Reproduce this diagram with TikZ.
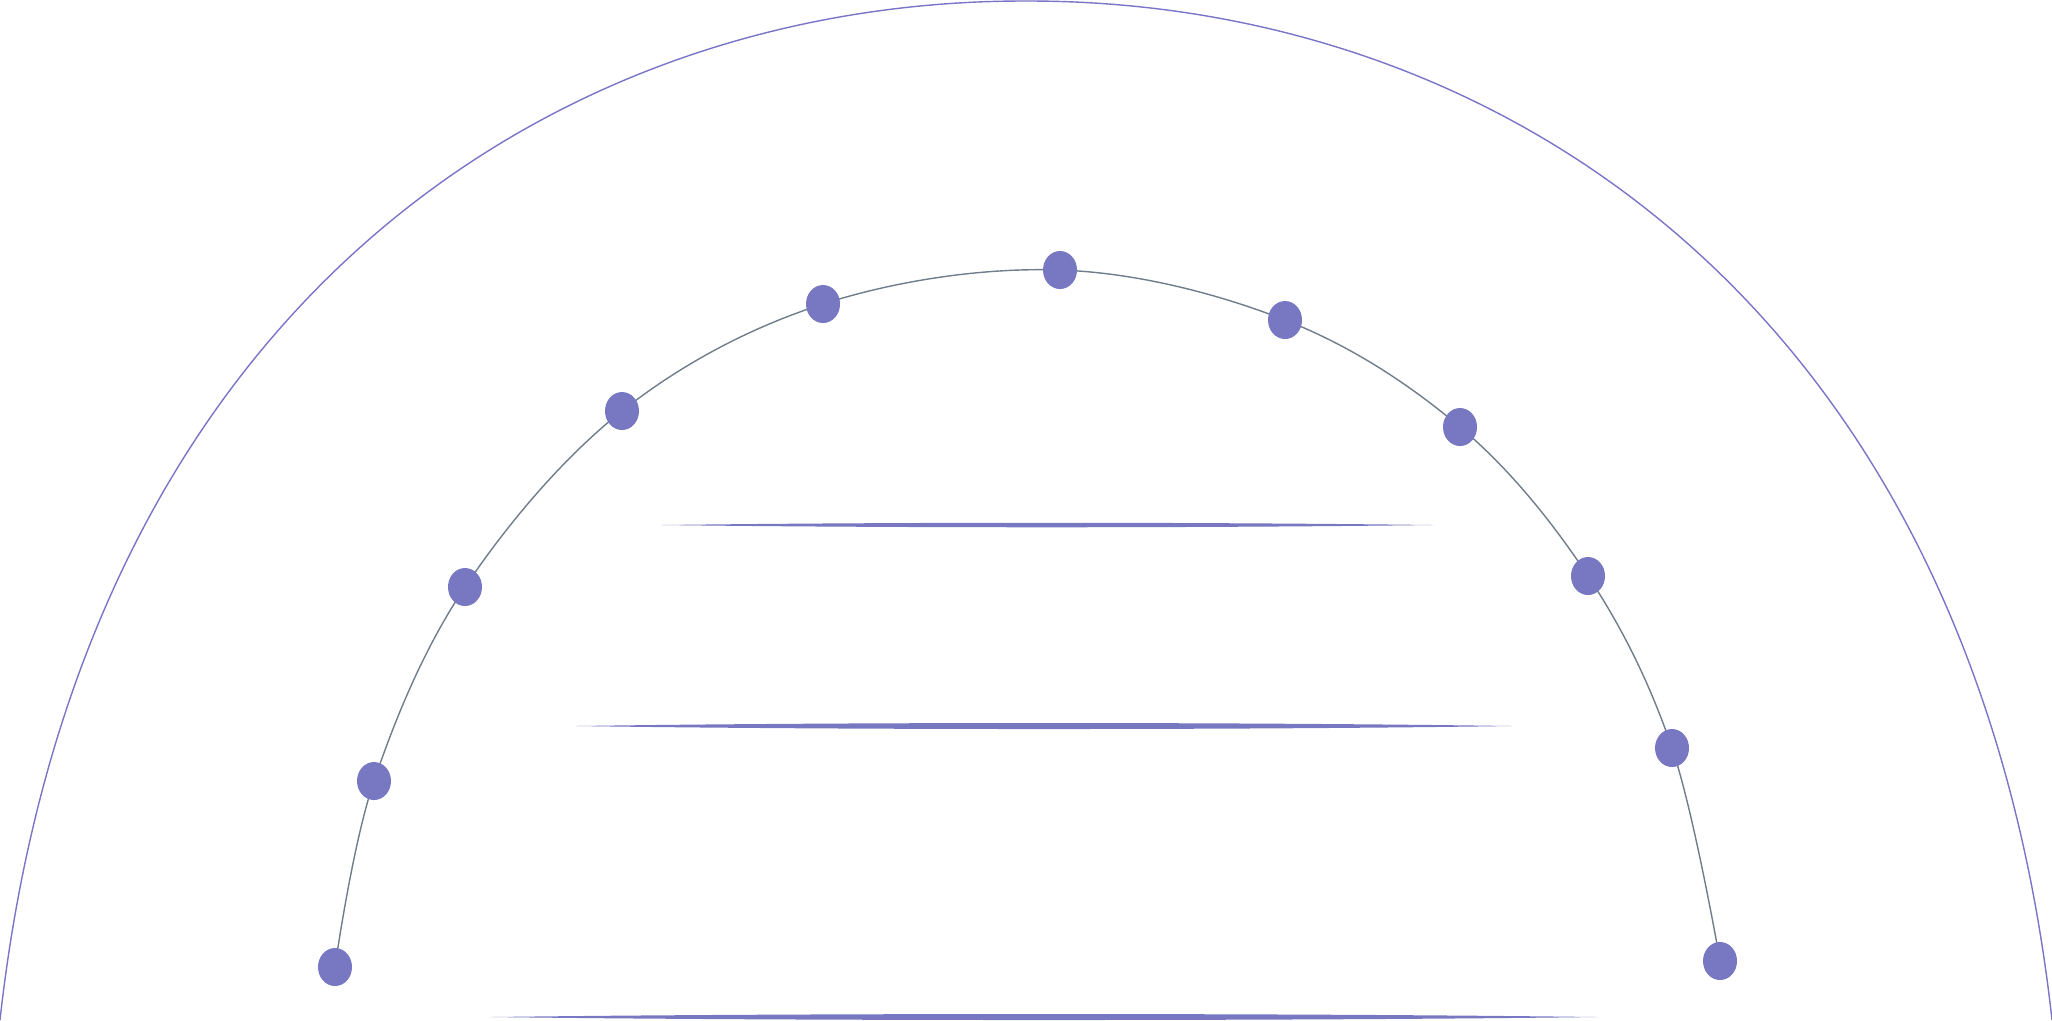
\documentclass[tikz,border=0pt]{standalone}
\usepackage{xcolor}
\usetikzlibrary{shapes.geometric}
\definecolor{dotblue}{HTML}{7777C2}
\definecolor{arcblue}{HTML}{7B75C8}
\definecolor{slate}{HTML}{6F7D8C}
\begin{document}
\begin{tikzpicture}[x=0.01cm,y=-0.01cm,
    dot/.style={ellipse,fill=dotblue,minimum width=0.34cm,minimum height=0.38cm,inner sep=0pt},
    bar/.style={fill=dotblue}]
\useasboundingbox (0,0) rectangle (2052,1020);
% outer arc
\draw[arcblue,line width=0.4pt] (0,1020) .. controls (80,300) and (560,0) .. (1026,1)
    .. controls (1492,0) and (1972,300) .. (2052,1020);
% dots on the inner arc
\coordinate (p1) at (335,967);
\coordinate (p2) at (374,781);
\coordinate (p3) at (465,587);
\coordinate (p4) at (622,411);
\coordinate (p5) at (823,304);
\coordinate (p6) at (1060,270);
\coordinate (p7) at (1285,320);
\coordinate (p8) at (1460,427);
\coordinate (p9) at (1588,576);
\coordinate (p10) at (1672,748);
\coordinate (p11) at (1720,961);
\draw[slate,line width=0.4pt] plot[smooth,tension=0.6] coordinates {(p1) (p2) (p3) (p4) (p5) (p6) (p7) (p8) (p9) (p10) (p11)};
\foreach \i in {1,...,11}
    \node[dot] (d\i) at (p\i) {};
% tapered bars
\fill[bar] (661,525) .. controls (900,522) and (1194,522) .. (1433,525)
    .. controls (1194,528) and (900,528) .. (661,525);
\fill[bar] (576,726) .. controls (850,722) and (1238,722) .. (1512,726)
    .. controls (1238,730) and (850,730) .. (576,726);
\fill[bar] (491,1017) .. controls (800,1013) and (1288,1013) .. (1597,1017)
    .. controls (1288,1021) and (800,1021) .. (491,1017);
\end{tikzpicture}
\end{document}
